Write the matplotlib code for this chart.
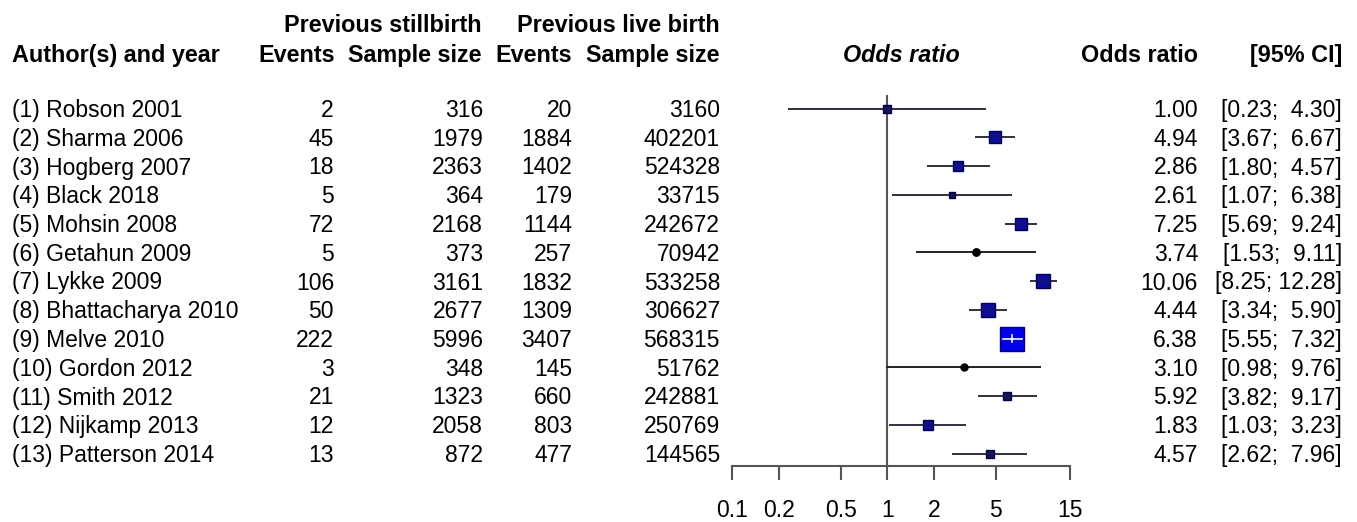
import matplotlib
matplotlib.use("Agg")
import matplotlib.pyplot as plt
from matplotlib.ticker import FixedLocator, FixedFormatter, NullLocator
import numpy as np

# Data
studies = ["(1) Robson 2001", "(2) Sharma 2006", "(3) Hogberg 2007", "(4) Black 2018",
           "(5) Mohsin 2008", "(6) Getahun 2009", "(7) Lykke 2009", "(8) Bhattacharya 2010",
           "(9) Melve 2010", "(10) Gordon 2012", "(11) Smith 2012", "(12) Nijkamp 2013",
           "(13) Patterson 2014"]
events_sb = [2, 45, 18, 5, 72, 5, 106, 50, 222, 3, 21, 12, 13]
n_sb = [316, 1979, 2363, 364, 2168, 373, 3161, 2677, 5996, 348, 1323, 2058, 872]
events_lb = [20, 1884, 1402, 179, 1144, 257, 1832, 1309, 3407, 145, 660, 803, 477]
n_lb = [3160, 402201, 524328, 33715, 242672, 70942, 533258, 306627, 568315, 51762, 242881, 250769, 144565]
odds_ratio = [1.00, 4.94, 2.86, 2.61, 7.25, 3.74, 10.06, 4.44, 6.38, 3.10, 5.92, 1.83, 4.57]
ci_low = [0.23, 3.67, 1.80, 1.07, 5.69, 1.53, 8.25, 3.34, 5.55, 0.98, 3.82, 1.03, 2.62]
ci_high = [4.30, 6.67, 4.57, 6.38, 9.24, 9.11, 12.28, 5.90, 7.32, 9.76, 9.17, 3.23, 7.96]
weight = [9, 29, 19, 7, 29, 9.5, 34, 34, 100, 8.5, 11, 21, 9]  # relative study weights

tick_vals = [0.1, 0.2, 0.5, 1, 2, 5, 15]
tick_labels = ["0.1", "0.2", "0.5", "1", "2", "5", "15"]

plt.rcParams["font.family"] = ["Liberation Sans", "DejaVu Sans"]
FS = 16.5

W, H = 1357, 522
fig = plt.figure(figsize=(W / 100, H / 100), dpi=100)

# Overlay axes in pixel coordinates for the table text
tax = fig.add_axes([0, 0, 1, 1])
tax.set_xlim(0, W)
tax.set_ylim(H, 0)
tax.axis("off")

# Forest axes
x0, x1, ytop, ybot = 732, 1070, 95, 466
row_y0, row_dy = 108.5, 28.75
ax = fig.add_axes([x0 / W, (H - ybot) / H, (x1 - x0) / W, (ybot - ytop) / H])
ax.set_xscale("log")
ax.set_xlim(0.1, 15)
n = len(studies)
ax.set_ylim(n + (ybot - (row_y0 + (n - 1) * row_dy)) / row_dy, 1 - (row_y0 - ytop) / row_dy)
ax.patch.set_alpha(0)
for s in ["top", "right", "left"]:
    ax.spines[s].set_visible(False)
ax.spines["bottom"].set_color("#555555")
ax.spines["bottom"].set_linewidth(1.5)
ax.set_yticks([])
ax.xaxis.set_major_locator(FixedLocator(tick_vals))
ax.xaxis.set_major_formatter(FixedFormatter(tick_labels))
ax.xaxis.set_minor_locator(NullLocator())
ax.tick_params(axis="x", direction="out", length=10, width=1.5, color="#555555",
               labelsize=FS, pad=14)

ax.axvline(1, color="#555555", lw=1.5, zorder=1)

dot_studies = {"(6) Getahun 2009", "(10) Gordon 2012"}
wmax = max(weight)
rows = np.arange(1, n + 1)
for i, r in enumerate(rows):
    side_px = 24 * np.sqrt(weight[i] / wmax)
    ms = side_px / 1.389
    big = weight[i] == wmax
    line_col = "#222222" if studies[i] in dot_studies else "#4d4d4d"
    ax.plot([ci_low[i], ci_high[i]], [r, r], color=line_col, lw=1.4, zorder=2,
            solid_capstyle="butt", clip_on=False)
    if studies[i] in dot_studies:
        ax.plot(odds_ratio[i], r, marker="o", ms=ms, color="black", zorder=3, clip_on=False)
    elif big:
        ax.plot(odds_ratio[i], r, marker="s", ms=ms, mfc="#0000ee", mec="#00008b",
                mew=1, zorder=3, clip_on=False)
        ax.plot([ci_low[i], ci_high[i]], [r, r], color="white", lw=1.2, zorder=4)
        ax.plot([odds_ratio[i]] * 2, [r - 0.13, r + 0.13], color="white", lw=1.2, zorder=4)
    else:
        face = "#0c0ca0" if side_px > 9 else "#14145a"
        ax.plot(odds_ratio[i], r, marker="s", ms=ms, mfc=face, mec="#000050",
                mew=1, zorder=3, clip_on=False)
        ax.plot([ci_low[i], ci_high[i]], [r, r], color="#1a1a40", lw=1.2, zorder=4,
                solid_capstyle="butt", clip_on=False, alpha=0.6)

# Header
hb = dict(fontsize=FS + 0.3, fontweight="bold", va="baseline")
tax.text(12, 62, "Author(s) and year", ha="left", **hb)
tax.text(482, 32, "Previous stillbirth", ha="right", **hb)
tax.text(720, 32, "Previous live birth", ha="right", **hb)
tax.text(335, 62, "Events", ha="right", **hb)
tax.text(482, 62, "Sample size", ha="right", **hb)
tax.text(572, 62, "Events", ha="right", **hb)
tax.text(720, 62, "Sample size", ha="right", **hb)
tax.text(901, 62, "Odds ratio", ha="center", style="italic", **hb)
tax.text(1198, 62, "Odds ratio", ha="right", **hb)
tax.text(1342, 62, "[95% CI]", ha="right", **hb)

# Rows
up_w = max(len(f"{v:.2f}") for v in ci_high)
for i in range(n):
    yb = row_y0 + i * row_dy + 8.5
    kw = dict(fontsize=FS, va="baseline")
    tax.text(12, yb, studies[i], ha="left", **kw)
    tax.text(334, yb, str(events_sb[i]), ha="right", **kw)
    tax.text(483, yb, str(n_sb[i]), ha="right", **kw)
    tax.text(572, yb, str(events_lb[i]), ha="right", **kw)
    tax.text(720, yb, str(n_lb[i]), ha="right", **kw)
    tax.text(1198, yb, f"{odds_ratio[i]:.2f}", ha="right", **kw)
    up = f"{ci_high[i]:.2f}"
    up = " " * (up_w - len(up)) + up
    tax.text(1342, yb, f"[{ci_low[i]:.2f}; {up}]", ha="right", **kw)

fig.savefig("out.png", dpi=100)
